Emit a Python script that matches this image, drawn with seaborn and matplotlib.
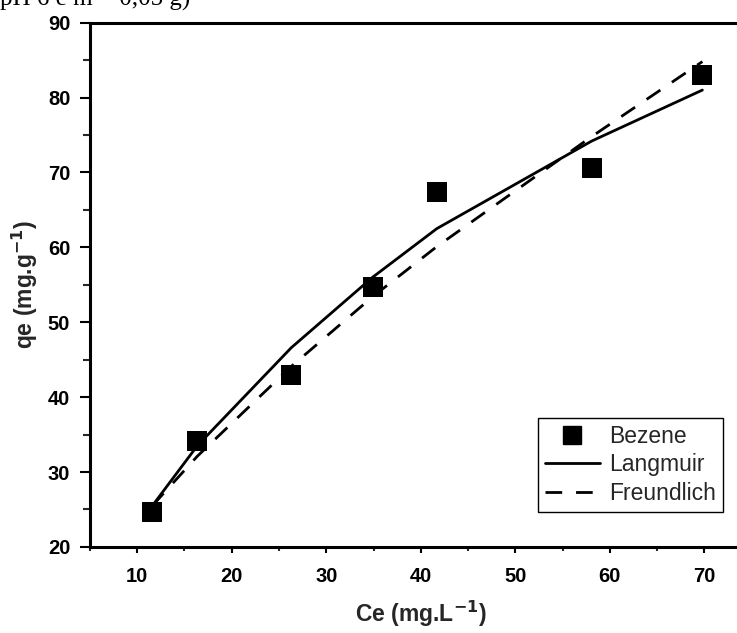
import matplotlib
matplotlib.use("Agg")
import matplotlib.pyplot as plt
from matplotlib.ticker import MultipleLocator
from matplotlib.lines import Line2D
import seaborn as sns
import pandas as pd

# Equilibrium concentration (mg/L) and adsorbed amount (mg/g)
ce = [11.6, 16.35, 26.3, 34.9, 41.7, 58.1, 69.8]
qe = [24.7, 34.1, 42.9, 54.7, 67.4, 70.6, 83.0]
# Isotherm model values at the same concentrations
q_langmuir = [25.5, 33.5, 46.6, 56.0, 62.5, 74.2, 81.0]
q_freundlich = [25.5, 32.1, 44.1, 53.4, 60.1, 74.8, 84.8]

series_labels = ["Bezene", "Langmuir", "Freundlich"]
x_ticks = [10, 20, 30, 40, 50, 60, 70]
y_ticks = [20, 30, 40, 50, 60, 70, 80, 90]

df = pd.DataFrame({"ce": ce, "qe": qe,
                   "langmuir": q_langmuir, "freundlich": q_freundlich})

sns.set_style("ticks")
plt.rcParams["font.family"] = ["Liberation Sans", "DejaVu Sans"]

fig = plt.figure(figsize=(7.37, 6.33), dpi=100)
ax = fig.add_axes([0.1221, 0.1360, 0.8976, 0.8282])

sns.scatterplot(data=df, x="ce", y="qe", marker="s", s=210, color="black",
                edgecolor="black", linewidth=0, ax=ax, zorder=2, legend=False)
sns.lineplot(data=df, x="ce", y="langmuir", color="black", lw=2.0,
             ax=ax, zorder=3, legend=False)
sns.lineplot(data=df, x="ce", y="freundlich", color="black", lw=2.0,
             linestyle=(0, (6, 5)), ax=ax, zorder=3, legend=False)

ax.set_xlim(5, 75)
ax.set_ylim(20, 90)
ax.set_xticks(x_ticks)
ax.set_yticks(y_ticks)
ax.xaxis.set_minor_locator(MultipleLocator(5))
ax.yaxis.set_minor_locator(MultipleLocator(5))

for side in ["left", "bottom", "top"]:
    ax.spines[side].set_linewidth(2.2)
    ax.spines[side].set_color("black")
ax.spines["right"].set_visible(False)

ax.tick_params(axis="x", which="major", direction="out", length=4.5, width=1.5,
               pad=10, labelsize=14.5, colors="black")
ax.tick_params(axis="x", which="minor", direction="out", length=3, width=1.5)
ax.tick_params(axis="y", which="major", direction="out", length=7.2, width=1.5,
               pad=7, labelsize=14.5, colors="black")
ax.tick_params(axis="y", which="minor", direction="out", length=5, width=1.5)
for lab in ax.get_xticklabels() + ax.get_yticklabels():
    lab.set_fontweight("bold")

ax.set_xlabel(r"Ce (mg.L$^{\mathbf{-1}}$)", fontsize=16.5, fontweight="bold",
              labelpad=9)
ax.set_ylabel(r"qe (mg.g$^{\mathbf{-1}}$)", fontsize=16.5, fontweight="bold",
              labelpad=6)

handles = [
    Line2D([], [], marker="s", color="black", linestyle="none", markersize=12.5),
    Line2D([], [], color="black", lw=2.0),
    Line2D([], [], color="black", lw=2.0, linestyle=(0, (6, 5))),
]
leg = ax.legend(handles, series_labels, loc="lower left",
                bbox_to_anchor=(0.677, 0.0668), borderaxespad=0,
                frameon=True, fancybox=False, framealpha=1, edgecolor="black",
                fontsize=16.5, handlelength=2.4, handletextpad=0.4,
                labelspacing=0.25, borderpad=0.3)
leg.get_frame().set_linewidth(1.0)

fig.text(0.0, 1 - 6 / 633, "pH 6 e m = 0,05 g)", family="Liberation Serif",
         fontsize=18, ha="left", va="baseline", color="black")

fig.savefig("out.png", dpi=100)
